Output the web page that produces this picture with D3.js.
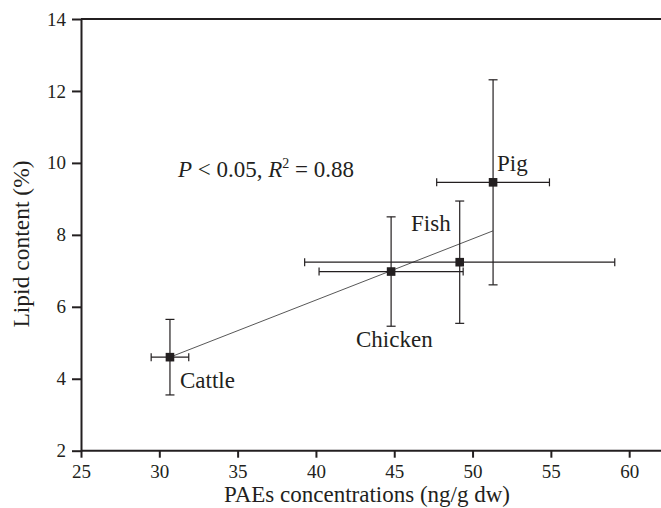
<!DOCTYPE html>
<html><head><meta charset="utf-8">
<script src="https://cdn.jsdelivr.net/npm/d3@7"></script>
<style>body{margin:0;background:#fff}svg{display:block}text{font-family:"Liberation Serif","Times New Roman",serif;fill:#231f20}</style>
</head><body>
<script>
const names = ["Cattle","Chicken","Fish","Pig"];
const paes = [30.68, 44.8, 49.18, 51.31];
const paesErr = [1.2, 4.6, 9.9, 3.6];
const lipid = [4.6, 6.98, 7.24, 9.46];
const lipidErr = [1.05, 1.52, 1.7, 2.85];
const fitX = [30.68, 51.3];
const fitY = [4.6, 8.11];
const xTicks = [25,30,35,40,45,50,55,60];
const yTicks = [2,4,6,8,10,12,14];

const W=661,H=508;
const svg=d3.select("body").append("svg").attr("width",W).attr("height",H);
const x=d3.scaleLinear().domain([25,62]).range([81,660.5]);
const y=d3.scaleLinear().domain([2,14]).range([450.7,19]);
const ink="#231f20";

// frame top
svg.append("line").attr("x1",x(25)).attr("x2",W).attr("y1",y(14)).attr("y2",y(14)).attr("stroke",ink).attr("stroke-width",2);

const xa=svg.append("g").attr("transform",`translate(0,${y(2)})`).call(d3.axisBottom(x).tickValues(xTicks).tickSize(7).tickPadding(6.5).tickSizeOuter(0));
const ya=svg.append("g").attr("transform",`translate(${x(25)},0)`).call(d3.axisLeft(y).tickValues(yTicks).tickSize(9).tickPadding(6).tickSizeOuter(0));
[xa,ya].forEach(a=>{
  a.select(".domain").attr("stroke",ink).attr("stroke-width",2);
  a.selectAll(".tick line").attr("stroke",ink).attr("stroke-width",2);
  a.selectAll(".tick text").attr("font-size",19).style("font-family","'Liberation Serif',serif").attr("fill",ink);
});
xa.select(".domain").attr("d",`M${x(25)},0H${W}`);

// fit line
svg.append("line").attr("x1",x(fitX[0])).attr("y1",y(fitY[0])).attr("x2",x(fitX[1])).attr("y2",y(fitY[1])).attr("stroke","#444").attr("stroke-width",0.9);

const data=names.map((n,i)=>({n,x:paes[i],xe:paesErr[i],y:lipid[i],ye:lipidErr[i]}));
const g=svg.append("g").attr("stroke",ink).attr("stroke-width",1.2);
data.forEach(d=>{
  const cx=x(d.x),cy=y(d.y);
  g.append("line").attr("x1",cx).attr("x2",cx).attr("y1",y(d.y-d.ye)).attr("y2",y(d.y+d.ye));
  g.append("line").attr("x1",x(d.x-d.xe)).attr("x2",x(d.x+d.xe)).attr("y1",cy).attr("y2",cy);
  [d.y-d.ye,d.y+d.ye].forEach(v=>g.append("line").attr("x1",cx-4.5).attr("x2",cx+4.5).attr("y1",y(v)).attr("y2",y(v)));
  [d.x-d.xe,d.x+d.xe].forEach(v=>g.append("line").attr("y1",cy-4).attr("y2",cy+4).attr("x1",x(v)).attr("x2",x(v)));
});
svg.selectAll("rect.pt").data(data).enter().append("rect").attr("class","pt")
  .attr("x",d=>x(d.x)-4.3).attr("y",d=>y(d.y)-4.3).attr("width",8.6).attr("height",8.6).attr("fill",ink);

// labels
const lab={Cattle:[180,388],Chicken:[356,347],Fish:[411,231],Pig:[497,171]};
names.forEach(n=>svg.append("text").attr("x",lab[n][0]).attr("y",lab[n][1]).attr("font-size",23).text(n));

const ann=svg.append("text").attr("x",178).attr("y",177).attr("font-size",23);
ann.append("tspan").attr("font-style","italic").text("P");
ann.append("tspan").text(" < 0.05, ");
ann.append("tspan").attr("font-style","italic").text("R");
ann.append("tspan").attr("font-size",14).attr("dy",-9).text("2");
ann.append("tspan").attr("dy",9).text(" = 0.88");

svg.append("text").attr("x",367).attr("y",502).attr("text-anchor","middle").attr("font-size",23).text("PAEs concentrations (ng/g dw)");
svg.append("text").attr("transform","translate(29,244) rotate(-90)").attr("text-anchor","middle").attr("font-size",23.5).text("Lipid content (%)");
</script>
</body></html>
